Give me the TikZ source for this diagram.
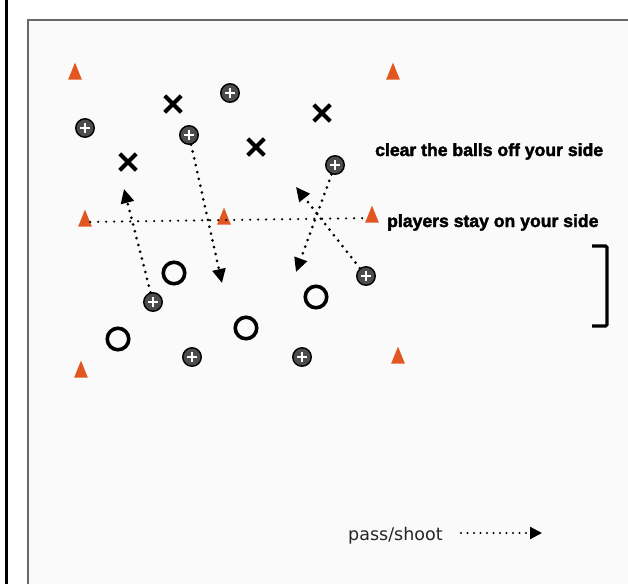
\documentclass[tikz,border=0pt]{standalone}
\usepackage{fontspec}
\setmainfont{Liberation Sans}
\newfontfamily\heavyfont[FakeBold=2.2]{Liberation Sans Bold}
\newfontfamily\legendfont{DejaVu Sans}
\usetikzlibrary{arrows.meta}
\usetikzlibrary{shapes.geometric, shapes.misc}
\definecolor{conecol}{RGB}{226,86,34}
\definecolor{fieldbg}{RGB}{249,250,249}
\definecolor{framegray}{RGB}{105,105,105}

\begin{document}
\begin{tikzpicture}[x=1pt,y=-1pt,
  cone/.style={isosceles triangle,shape border rotate=90,isosceles triangle apex angle=44,
    minimum height=17pt,inner sep=0pt,fill=conecol},
  ball/.style={circle,minimum size=18.5pt,inner sep=0pt,draw=black,line width=1.4pt,fill=black!70,
    path picture={\draw[white,line width=1.4pt]
      ([xshift=-4.8pt]path picture bounding box.center) -- ++(9.6pt,0pt)
      ([yshift=-4.8pt]path picture bounding box.center) -- ++(0pt,9.6pt);}},
  attacker/.style={cross out,draw,line width=4pt,minimum size=12.5pt,inner sep=0pt},
  defender/.style={circle,draw,line width=3.6pt,minimum size=21.5pt,inner sep=0pt},
  pass/.style={line width=3pt,dash pattern=on 0pt off 7pt,line cap=round,
    -{Triangle[length=14pt,width=13pt]}},
  tagline/.style={font=\heavyfont\fontsize{17.6}{20}\selectfont,inner sep=0pt,anchor=base west}]
\useasboundingbox (0,0) rectangle (628,584);

%Set up:
\fill[white] (0,0) rectangle (628,584);
\fill[fieldbg] (28,20) rectangle (628,584);
\draw[line width=2.6pt] (6.5,0) -- (6.5,584);
\draw[framegray,line width=2.6pt] (28,584) -- (28,20) -- (628,20);

%cones
\node[cone] (c1) at (75,75) {};
\node[cone] (c2) at (393,75) {};
\node[cone] (c3) at (85,222) {};
\node[cone] (c4) at (224,220) {};
\node[cone] (c5) at (372,218) {};
\node[cone] (c6) at (81,373) {};
\node[cone] (c7) at (398,359) {};

%balls
\node[ball] (b1) at (230,93) {};
\node[ball] (b2) at (85,128) {};
\node[ball] (b3) at (189,135) {};
\node[ball] (b4) at (335,165) {};
\node[ball] (b5) at (153,302) {};
\node[ball] (b6) at (366,276) {};
\node[ball] (b7) at (192,357) {};
\node[ball] (b8) at (302,357) {};

%players
\node[attacker] (x1) at (173,104) {};
\node[attacker] (x2) at (322,113) {};
\node[attacker] (x3) at (256,147) {};
\node[attacker] (x4) at (128,162) {};
\node[defender] (o1) at (174,273) {};
\node[defender] (o2) at (118,339) {};
\node[defender] (o3) at (246,328) {};
\node[defender] (o4) at (316,297) {};

%halfway line
\draw[line width=2.4pt,dash pattern=on 0pt off 8pt,line cap=round] (c3) -- (c5);

%passes
\coordinate (t1) at (124,189);
\coordinate (t2) at (222,283);
\coordinate (t3) at (296,272);
\coordinate (t4) at (296,187);
\draw[pass] (b5) -- (t1);
\draw[pass] (b3) -- (t2);
\draw[pass] (b4) -- (t3);
\draw[pass] (b6) -- (t4);

%texts
\node[tagline] (clear) at (375,156) {clear the balls off your side};
\node[tagline] (stay) at (387,227) {players stay on your side};
\draw[line width=3.2pt,rounded corners=1.5pt] (592,246) -- (607,246) -- (607,326) -- (592,326);

%legend
\node[font=\legendfont\fontsize{17.5}{20}\selectfont,text=black!85,inner sep=0pt,anchor=base west]
  (legtxt) at (348,540) {pass/shoot};
\coordinate (legs) at (461,533);
\coordinate (lege) at (542,533);
\draw[pass,line width=2.2pt,dash pattern=on 0pt off 6.5pt,-{Triangle[length=12pt,width=12pt]}] (legs) -- (lege);

\end{tikzpicture}
\end{document}
